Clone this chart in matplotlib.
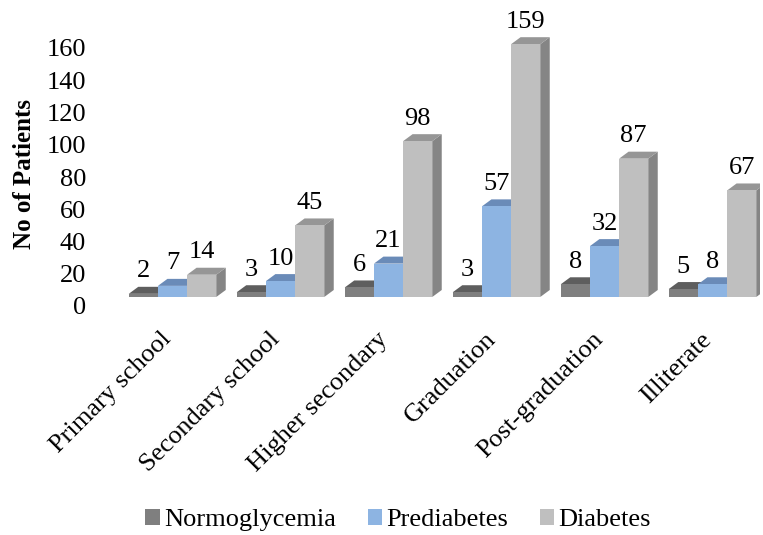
import matplotlib
matplotlib.use("Agg")
import matplotlib.pyplot as plt
from matplotlib import font_manager
from matplotlib.patches import Patch, Polygon

categories = ["Primary school", "Secondary school", "Higher secondary",
              "Graduation", "Post-graduation", "Illiterate"]
series_names = ["Normoglycemia", "Prediabetes", "Diabetes"]
normoglycemia = [2, 3, 6, 3, 8, 5]
prediabetes = [7, 10, 21, 57, 32, 8]
diabetes = [14, 45, 98, 159, 87, 67]
y_ticks = [0, 20, 40, 60, 80, 100, 120, 140, 160]

series = [normoglycemia, prediabetes, diabetes]
# front, top, side shades for each series
front_colors = ["#7f7f7f", "#8db4e2", "#bfbfbf"]
top_colors = ["#5e5e5e", "#6a8bb8", "#969696"]
side_colors = ["#6b6b6b", "#7596c4", "#858585"]

installed = {f.name for f in font_manager.fontManager.ttflist}
serif_choice = [n for n in ["Liberation Serif", "Times New Roman", "DejaVu Serif"] if n in installed]
plt.rcParams["font.family"] = "serif"
plt.rcParams["font.serif"] = serif_choice

FS = 19

W, H = 763, 535
fig = plt.figure(figsize=(W / 100, H / 100), dpi=100)

# axes rectangle in pixels
left_px, right_px = 100, 760
top_px, bottom_px = 5, 310
rect = [left_px / W, 1 - bottom_px / H, (right_px - left_px) / W, (bottom_px - top_px) / H]

ax = fig.add_axes(rect)
px_per_x = 108.0
px_per_y = 1.59
base_px = 297.0
xl = -(172.5 - left_px) / px_per_x
xr = 5 + (right_px - 712.5) / px_per_x
ax.set_xlim(xl, xr)
ax.set_ylim(-(bottom_px - base_px) / px_per_y, (base_px - top_px) / px_per_y)
ax.axis("off")

width = 0.27
dx = 9.5 / px_per_x
dy = 7.0 / px_per_y

for i in range(len(categories)):
    for s in range(3):
        v = series[s][i]
        x0 = i + (s - 1.5) * width
        x1 = x0 + width
        z = 10 + i * 10 + s
        ax.bar(x0, v, width=width, align="edge", color=front_colors[s],
               edgecolor="none", zorder=z + 0.3)
        top = Polygon([(x0, v), (x1, v), (x1 + dx, v + dy), (x0 + dx, v + dy)],
                      closed=True, facecolor=top_colors[s], edgecolor="none", zorder=z + 0.2)
        side = Polygon([(x1, 0), (x1 + dx, dy), (x1 + dx, v + dy), (x1, v)],
                       closed=True, facecolor=side_colors[s], edgecolor="none", zorder=z + 0.1)
        ax.add_patch(top)
        ax.add_patch(side)
        ax.text(x0 + width / 2, v + dy + 6.0, str(v), ha="center", va="baseline",
                fontsize=FS, zorder=200)

# category labels
for i, cat in enumerate(categories):
    ax.text(i - 0.04, -(336 - base_px) / px_per_y, cat, rotation=45, ha="right", va="center",
            rotation_mode="anchor", fontsize=FS)

# value axis labels
axt = fig.add_axes(rect, frameon=False)
tick_base_px = 306.0
tick_px_per = 1.6125
axt.set_ylim(-(bottom_px - tick_base_px) / tick_px_per, (tick_base_px - top_px) / tick_px_per)
axt.set_xticks([])
axt.set_yticks(y_ticks)
axt.set_yticklabels([str(t) for t in y_ticks], fontsize=FS)
axt.tick_params(axis="y", length=0, pad=10)
axt.patch.set_alpha(0)

fig.text(25 / W, 1 - 174 / H, "No of Patients", rotation=90, ha="center", va="center",
         fontsize=18, fontweight="bold")

handles = [Patch(facecolor=c, edgecolor="none") for c in front_colors]
fig.legend(handles, series_names, loc="center", bbox_to_anchor=(398 / W, 1 - 520 / H),
           ncol=3, frameon=False, fontsize=FS, handlelength=0.55, handleheight=0.55,
           handletextpad=0.15, columnspacing=1.2, borderpad=0)

fig.savefig("out.png", dpi=100)
